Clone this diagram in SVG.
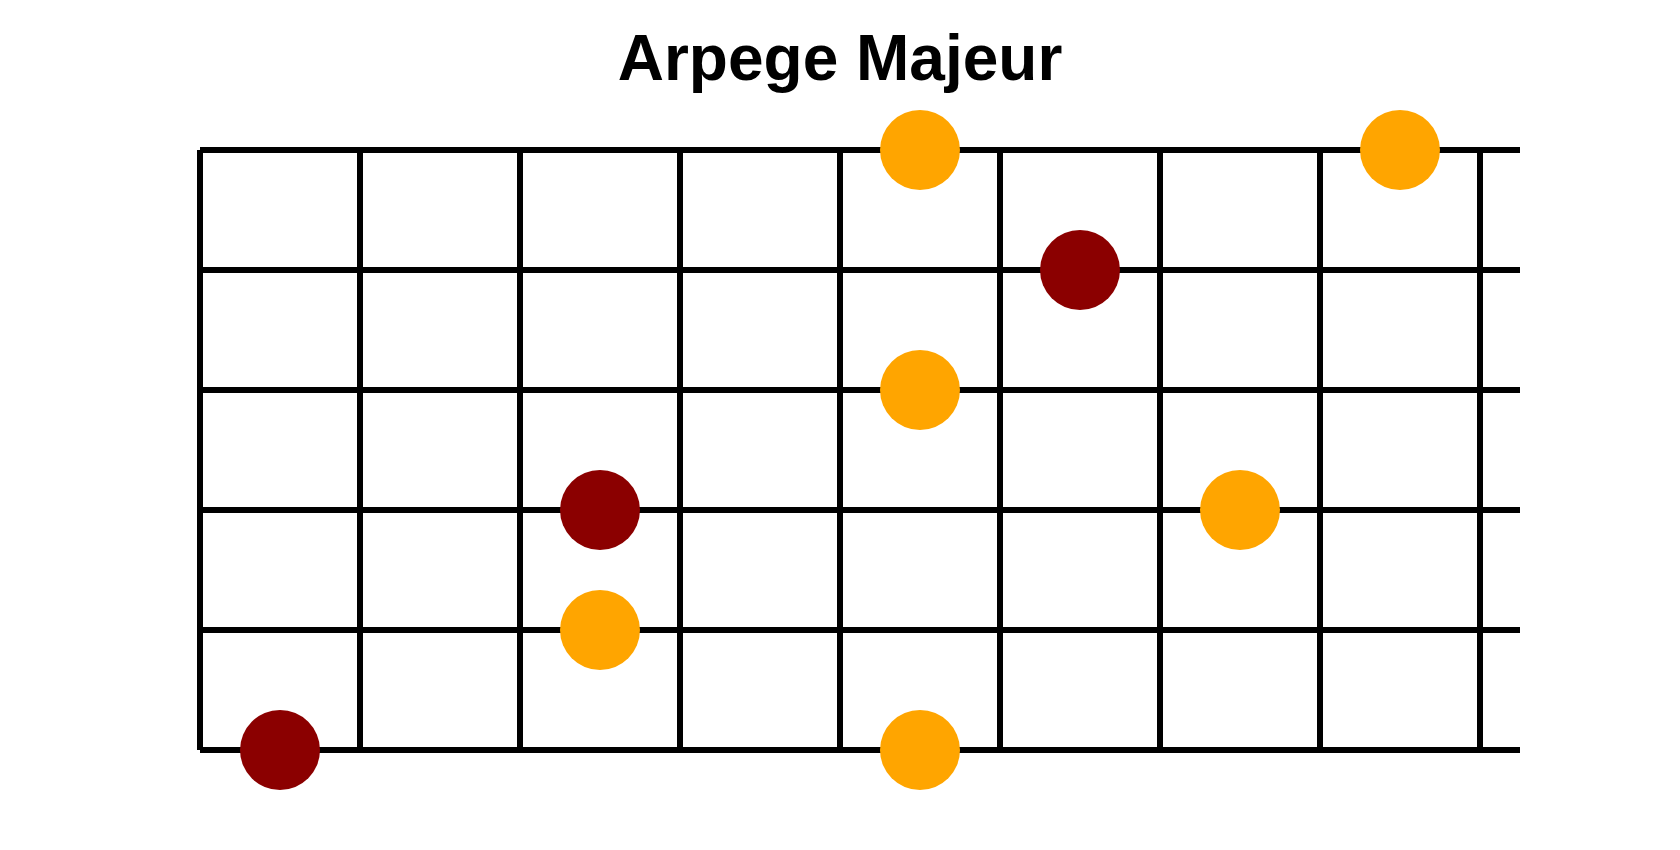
<svg xmlns="http://www.w3.org/2000/svg" width="1680" height="850" viewBox="0 0 1680 850">
<style>
.t{font-family:"Liberation Sans",Arial,sans-serif;font-weight:bold;font-size:64px;fill:#000}
.g line{stroke:#000;stroke-width:6;stroke-linecap:butt}
.o{fill:#FFA500}
.r{fill:#8B0000}
</style>
<rect width="1680" height="850" fill="#fff"/>
<text class="t" x="840" y="80" text-anchor="middle">Arpege Majeur</text>
<g id="connectors" class="g">
<line x1="200" y1="150" x2="1520" y2="150"/>
<line x1="200" y1="270" x2="1520" y2="270"/>
<line x1="200" y1="390" x2="1520" y2="390"/>
<line x1="200" y1="510" x2="1520" y2="510"/>
<line x1="200" y1="630" x2="1520" y2="630"/>
<line x1="200" y1="750" x2="1520" y2="750"/>
<line x1="200" y1="150" x2="200" y2="750"/>
<line x1="360" y1="150" x2="360" y2="750"/>
<line x1="520" y1="150" x2="520" y2="750"/>
<line x1="680" y1="150" x2="680" y2="750"/>
<line x1="840" y1="150" x2="840" y2="750"/>
<line x1="1000" y1="150" x2="1000" y2="750"/>
<line x1="1160" y1="150" x2="1160" y2="750"/>
<line x1="1320" y1="150" x2="1320" y2="750"/>
<line x1="1480" y1="150" x2="1480" y2="750"/>
</g>
<g id="n1"><circle class="o" cx="920" cy="150" r="40"/></g>
<g id="n2"><circle class="o" cx="1400" cy="150" r="40"/></g>
<g id="n3"><circle class="r" cx="1080" cy="270" r="40"/></g>
<g id="n4"><circle class="o" cx="920" cy="390" r="40"/></g>
<g id="n5"><circle class="r" cx="600" cy="510" r="40"/></g>
<g id="n6"><circle class="o" cx="1240" cy="510" r="40"/></g>
<g id="n7"><circle class="o" cx="600" cy="630" r="40"/></g>
<g id="n8"><circle class="r" cx="280" cy="750" r="40"/></g>
<g id="n9"><circle class="o" cx="920" cy="750" r="40"/></g>
</svg>
